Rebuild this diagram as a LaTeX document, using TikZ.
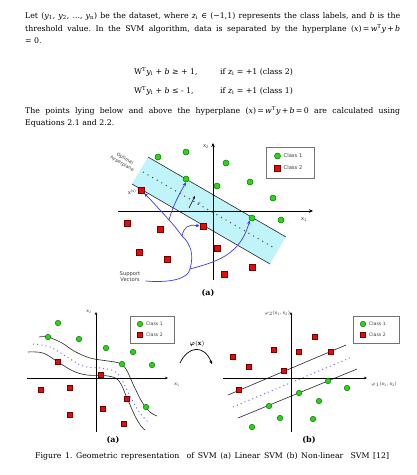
\documentclass[tikz,border=0pt]{standalone}
\usepackage{bm}
\usepackage{fontspec}
\setmainfont{DejaVu Serif}
\setsansfont{DejaVu Sans}
\usetikzlibrary{arrows.meta}
\frenchspacing
\definecolor{band}{RGB}{192,244,250}
\definecolor{gfill}{RGB}{40,215,20}
\definecolor{gdraw}{RGB}{20,110,10}
\definecolor{rfill}{RGB}{232,10,10}
\definecolor{rdraw}{RGB}{110,0,0}
\definecolor{svblue}{RGB}{60,60,235}
\definecolor{dotblue}{RGB}{110,110,240}
\definecolor{lbl}{RGB}{60,60,60}
\newcommand{\vi}[1]{\textit{#1}}
\begin{document}
\begin{tikzpicture}[x=1pt,y=-1pt,
  body/.style={font=\fontsize{7.8}{9.4}\selectfont, inner sep=0pt},
  gdot/.style={circle, fill=gfill, draw=gdraw, line width=0.5pt, minimum size=6pt, inner sep=0pt},
  rdot/.style={rectangle, fill=rfill, draw=rdraw, line width=0.5pt, minimum size=6pt, inner sep=0pt},
  gsm/.style={gdot, minimum size=5.5pt},
  rsm/.style={rdot, minimum size=5.3pt},
  axis/.style={line width=0.6pt, -{Stealth[length=4pt,width=3.5pt]}},
  saxis/.style={line width=0.6pt, -{Stealth[length=3pt,width=2.6pt]}},
  hline/.style={line width=0.6pt, black!85},
  svline/.style={svblue, line width=0.7pt},
  svarrow/.style={svline, -{Stealth[length=4pt,width=3.5pt]}},
  lab/.style={font=\fontsize{5.2}{6.2}\sffamily, text=lbl, inner sep=0pt},
  slab/.style={font=\fontsize{4.6}{5.5}\sffamily, text=lbl, inner sep=0pt},
  philab/.style={font=\fontsize{6}{7}\selectfont, inner sep=0pt},
  legbox/.style={draw=black!55, line width=0.5pt, fill=white},
  sub/.style={font=\fontsize{8}{10}\selectfont\bfseries, inner sep=0pt},
  darkdots/.style={line width=1pt, dash pattern=on 1pt off 4.3pt, black!75},
  bluedots/.style={line width=1pt, dash pattern=on 1pt off 3.2pt, dotblue}
]
\useasboundingbox[fill=white] (0,0) rectangle (417,475);

% ---------- text ----------
\node[body, anchor=west] (t1) at (25,16) {\makebox[375pt][s]{Let (\vi{y}\textsubscript{1}, \vi{y}\textsubscript{2}, ..., \vi{y}\textsubscript{n}) be the dataset, where \vi{z}\textsubscript{i} ∈ (−1,1) represents the class labels, and \vi{b} is the}};
\node[body, anchor=west] (t2) at (25,28.5) {\makebox[375pt][s]{threshold value. In the SVM algorithm, data is separated by the hyperplane (\vi{x})\,=\,\vi{w}\textsuperscript{T}\vi{y}\,+\,\vi{b}}};
\node[body, anchor=west] (t3) at (25,41) {= 0.};
\node[body, anchor=west] (e1) at (134,72) {W\textsuperscript{T}\vi{y}\textsubscript{i} + \vi{b} ≥ + 1,};
\node[body, anchor=west] (e2) at (220,72) {if \vi{z}\textsubscript{i} = +1 (class 2)};
\node[body, anchor=west] (e3) at (134,91) {W\textsuperscript{T}\vi{y}\textsubscript{i} + \vi{b} ≤ - 1,};
\node[body, anchor=west] (e4) at (220,91) {if \vi{z}\textsubscript{i} = +1 (class 1)};
\node[body, anchor=west] (t4) at (25,110.5) {\makebox[375pt][s]{The points lying below and above the hyperplane (\vi{x})\,=\,\vi{w}\textsuperscript{T}\vi{y}\,+\,\vi{b}\,=\,0 are calculated using}};
\node[body, anchor=west] (t5) at (25,123) {Equations 2.1 and 2.2.};

% ---------- figure (a) top ----------
\fill[band] (148,157) -- (286,237) -- (270,264) -- (132,184) -- cycle;
\draw[hline] (148,157) -- (286,237);
\draw[hline] (132,184) -- (270,264);
\draw[darkdots] (143,172) -- (276,249);
\draw[axis] (213,280) -- (213,143);
\draw[axis] (118,211) -- (313,211);
\node[lab] (ax2) at (206,147) {x\textsubscript{2}};
\node[lab] (ax1) at (304,220) {x\textsubscript{1}};
\node[slab, rotate=-30, align=center] (opt) at (123.5,161.5) {Optimal\\hyperplane};

\foreach \n/\p in {1/{158,157},2/{186,152},3/{226,163},5/{217,186},6/{250,182},7/{273,198},9/{281,220}}
  \node[gdot] (ag\n) at (\p) {};
\node[gdot] (gs1) at (186,179) {};
\node[gdot] (gs2) at (252,218) {};
\foreach \n/\p in {2/{127,223},3/{160,229},5/{139,252},6/{167,259},7/{217,248},8/{224,274},9/{252,267}}
  \node[rdot] (ar\n) at (\p) {};
\node[rdot] (xs) at (141,190) {};
\node[rdot] (rs) at (203,226) {};
\node[lab, anchor=east] (xslab) at (136.5,192) {x\textsuperscript{(s)}};

\coordinate (m1) at (189,208);
\coordinate (m2) at (195,196);
\draw[line width=0.6pt, -{Stealth[length=3pt,width=2.5pt]}] (m1) -- (m2);
\node[lab] (rho) at (199,204) {$\rho$};

% legend (top)
\node[legbox, minimum width=48pt, minimum height=31pt, anchor=north west] (leg1) at (266,146.5) {};
\node[gdot] (l1g) at (277.5,156) {};
\node[rdot] (l1r) at (277.5,168) {};
\node[lab, anchor=west] (l1gt) at (283.5,156) {Class 1};
\node[lab, anchor=west] (l1rt) at (283.5,168) {Class 2};

% support vectors
\node[lab, align=center] (sv) at (130,276.5) {Support\\Vectors};
\coordinate (svs) at (145.5,281);
\coordinate (j1) at (190,269);
\coordinate (j2) at (182,236);
\coordinate (j3) at (169,220);
\draw[svline] (svs) .. controls (170,283) and (188,279) .. (j1);
\draw[svline] (j1) .. controls (194,255) and (191,244) .. (j2);
\draw[svline] (j2) .. controls (177,229) and (173,224) .. (j3);
\draw[svarrow] (j3) .. controls (160,210) and (152,201) .. (xs.south east);
\draw[svarrow] (j3) .. controls (173,205) and (180,193) .. (gs1.south);
\draw[svarrow] (j2) .. controls (184,227) and (188,224) .. (rs.west);
\draw[svarrow] (j1) .. controls (215,262) and (240,256) .. (gs2.south west);
\node[sub] (capa) at (208,293) {(a)};

% ---------- figure (a) bottom-left ----------
\draw[hline] plot[smooth, tension=0.6] coordinates {(39,337) (48,337) (62,343) (74,351) (90,358) (108,361) (119,363) (126,369) (133,384) (142,402) (150,412) (157,416)};
\draw[hline] plot[smooth, tension=0.6] coordinates {(28,352) (43,353) (58,362) (73,371) (87,375) (108,376) (119,381) (127,398) (135,416) (141,426) (145,430)};
\draw[bluedots] plot[smooth, tension=0.6] coordinates {(33,344) (50,347) (67,357) (83,366) (100,368) (114,371) (122,380) (131,398) (140,413) (148,422)};
\draw[saxis] (96,432) -- (96,312);
\draw[saxis] (27,378) -- (168,378);
\node[slab] (bx2) at (89,312) {x\textsubscript{2}};
\node[slab] (bx1) at (177,385) {x\textsubscript{1}};
\foreach \n/\p in {1/{58,323},2/{48,337},3/{79,339},4/{106,348},5/{133,352},6/{122,364},7/{152,365},8/{146,407}}
  \node[gsm] (bg\n) at (\p) {};
\foreach \n/\p in {1/{58,362},2/{101,375},3/{41,390},4/{70,388},5/{127,399},6/{103,409},7/{70,415},8/{124,424}}
  \node[rsm] (br\n) at (\p) {};
\node[legbox, minimum width=44pt, minimum height=27pt, anchor=north west] (leg2) at (130,316) {};
\node[gsm] (l2g) at (140,324) {};
\node[rsm] (l2r) at (140,335) {};
\node[slab, anchor=west] (l2gt) at (146,324) {Class 1};
\node[slab, anchor=west] (l2rt) at (146,335) {Class 2};
\node[sub] (capa2) at (113,440) {(a)};

% phi arrow
\coordinate (phA) at (180,363);
\coordinate (phB) at (212,364);
\draw[line width=0.7pt, -{Stealth[length=3.5pt,width=3pt]}] (phA) .. controls (188,346) and (204,344) .. (phB);
\node[philab] (phl) at (197,344) {$\bm{\varphi}(\mathbf{x})$};

% ---------- figure (b) bottom-right ----------
\draw[hline] (228,395) -- (346,345);
\draw[hline] (238,418) -- (357,369);
\draw[bluedots] (233,407) -- (352,357);
\draw[saxis] (291,432) -- (291,312);
\draw[saxis] (223,378) -- (367,378);
\node[slab, anchor=east] (px2) at (290,313) {$\varphi_2$(x\textsubscript{1}, x\textsubscript{2})};
\node[slab] (px1) at (384,384) {$\varphi_1$(x\textsubscript{1}, x\textsubscript{2})};
\foreach \n/\p in {1/{233,357},2/{249,367},3/{274,350},4/{299,352},5/{315,337},6/{331,352},7/{284,371},8/{239,390}}
  \node[rsm] (cr\n) at (\p) {};
\foreach \n/\p in {1/{328,381},2/{347,388},3/{299,393},4/{319,401},5/{269,406},6/{280,418},7/{313,419},8/{252,427}}
  \node[gsm] (cg\n) at (\p) {};
\node[legbox, minimum width=46pt, minimum height=27pt, anchor=north west] (leg3) at (353,316) {};
\node[gsm] (l3g) at (363,324) {};
\node[rsm] (l3r) at (363,335) {};
\node[slab, anchor=west] (l3gt) at (369,324) {Class 1};
\node[slab, anchor=west] (l3rt) at (369,335) {Class 2};
\node[sub] (capb) at (309,440) {(b)};

% caption
\node[body, anchor=west] (cap) at (35,456) {\makebox[354pt][s]{Figure 1. Geometric representation \ of SVM (a) Linear SVM (b) Non-linear \ SVM [12]}};
\end{tikzpicture}
\end{document}
